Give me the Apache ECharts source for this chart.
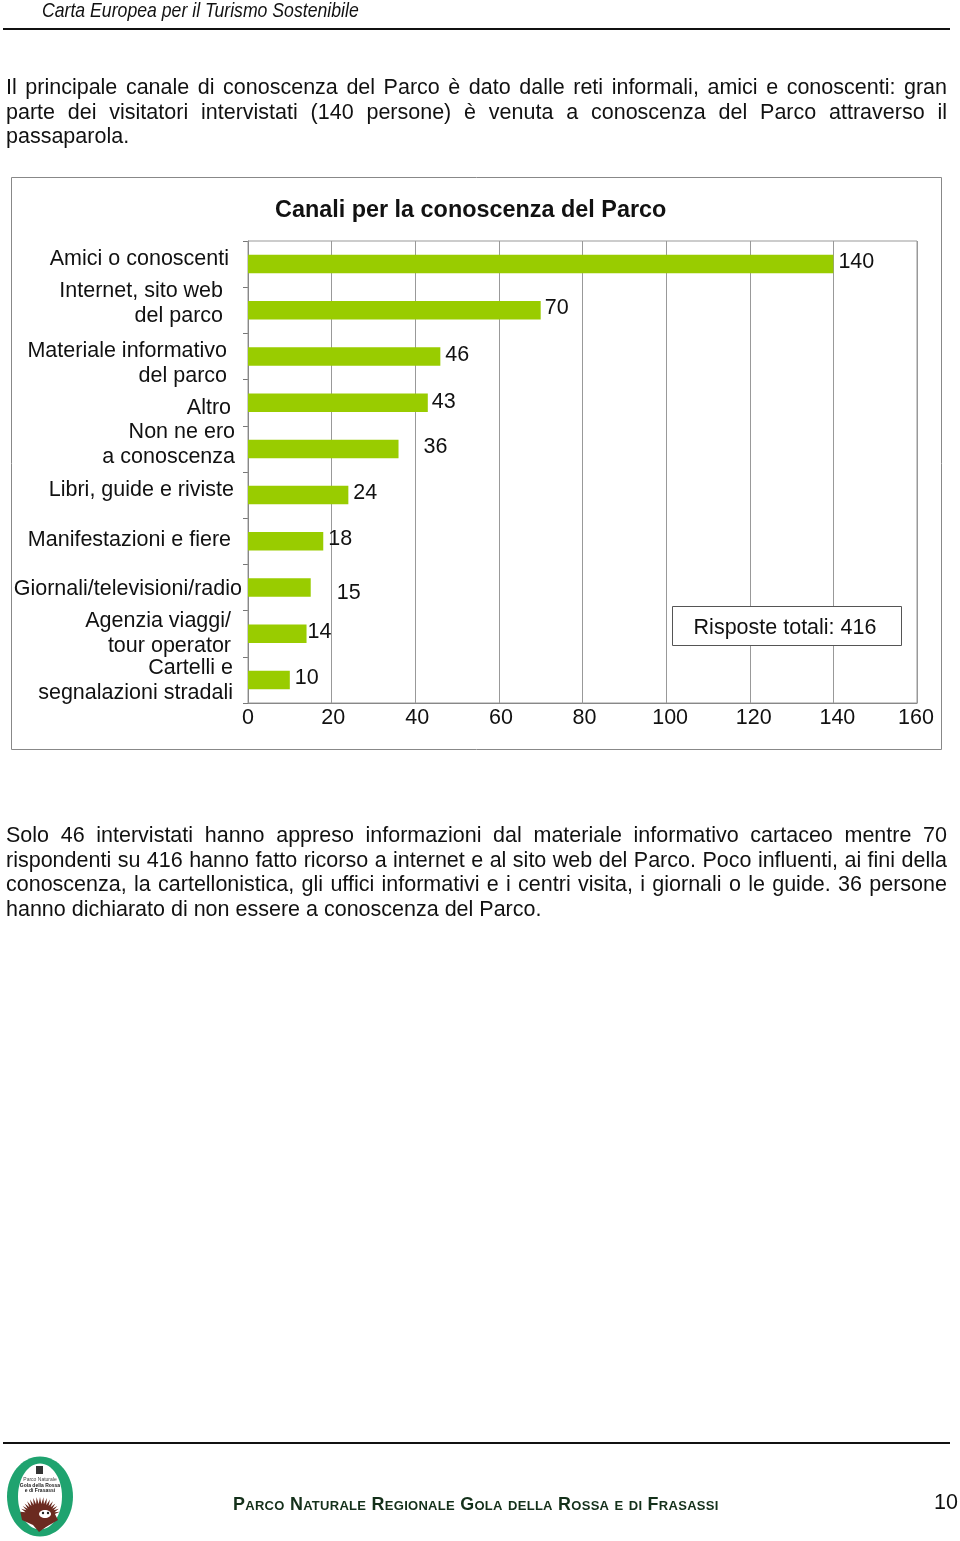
<!DOCTYPE html>
<html>
<head>
<meta charset="utf-8">
<title>Canali per la conoscenza del Parco</title>
<script src="https://cdn.jsdelivr.net/npm/echarts@6/dist/echarts.min.js"></script>
<style>
html, body { margin: 0; padding: 0; background: #fff; }
#page { position: relative; width: 960px; height: 1541px; overflow: hidden; font-family: "Liberation Sans", Arial, sans-serif; color: #111; }
#chartContainer { position: absolute; left: 0; top: 0; width: 960px; height: 1541px; }
.rule { position: absolute; left: 3px; width: 947px; height: 2px; background: #111; }
.line { position: absolute; left: 6px; width: 941px; font-size: 21.5px; line-height: 25px; white-space: nowrap; text-align: justify; text-align-last: justify; }
.line.last { text-align-last: left; }
#header { position: absolute; left: 42px; top: -3px; font: italic 21px/25px "Liberation Sans", sans-serif; white-space: nowrap; transform: scaleX(0.841); transform-origin: left top; }
#footer { position: absolute; left: 233px; top: 1492px; font-size: 17.9px; line-height: 24px; font-weight: bold; font-variant: small-caps; color: #14301a; white-space: nowrap; letter-spacing: 0.29px; }
#pageNum { position: absolute; left: 934px; top: 1490px; font-size: 21.5px; line-height: 25px; }
</style>
</head>
<body>
<div id="page">
    <div id="chartContainer"></div>
    <div id="header">Carta Europea per il Turismo Sostenibile</div>
    <div class="rule" style="top:28px"></div>
    <div id="intro"></div>
    <div id="outro"></div>
    <div class="rule" style="top:1442px"></div>
    <div id="footer">Parco Naturale Regionale Gola della Rossa e di Frasassi</div>
    <div id="pageNum">10</div>
</div>
<script>
const categories = [
    'Amici o conoscenti',
    'Internet, sito web\ndel parco',
    'Materiale informativo\ndel parco',
    'Altro',
    'Non ne ero\na conoscenza',
    'Libri, guide e riviste',
    'Manifestazioni e fiere',
    'Giornali/televisioni/radio',
    'Agenzia viaggi/\ntour operator',
    'Cartelli e\nsegnalazioni stradali'
];
const values = [140, 70, 46, 43, 36, 24, 18, 15, 14, 10];
const chartTitle = 'Canali per la conoscenza del Parco';
const totalNote = 'Risposte totali: 416';

const introLines = [
    'Il principale canale di conoscenza del Parco è dato dalle reti informali, amici e conoscenti: gran',
    'parte dei visitatori intervistati (140 persone) è venuta a conoscenza del Parco attraverso il',
    'passaparola.'
];
const outroLines = [
    'Solo 46 intervistati hanno appreso informazioni dal materiale informativo cartaceo mentre 70',
    'rispondenti su 416 hanno fatto ricorso a internet e al sito web del Parco. Poco influenti, ai fini della',
    'conoscenza, la cartellonistica, gli uffici informativi e i centri visita, i giornali o le guide. 36 persone',
    'hanno dichiarato di non essere a conoscenza del Parco.'
];

// hand placed in the original, so each label gets its own nudge
const labelNudgeRight = [14, 20, 16, 12, 8, 9, 12, 1, 12, 10];
const labelNudgeY = [-5, -7, 7, 5, -4, -5, -1, 2, 0, 1];
const valueNudge = [[0, -2], [-1, -2], [0, -1], [-1, -1], [20, -2], [0, -2], [0, -2], [21, 6], [-4, -2], [0, -2]];
// x axis labels sit a little off their grid lines in the original
const tickNudge = { 0: 0, 20: 1.5, 40: 2, 60: 2, 80: 2, 100: 4, 120: 4, 140: 4, 160: -1 };

function writeLines(id, lines, top) {
    const box = document.getElementById(id);
    lines.forEach((text, i) => {
        const div = document.createElement('div');
        div.className = 'line' + (i === lines.length - 1 ? ' last' : '');
        div.style.top = (top + i * 24.5) + 'px';
        div.textContent = text;
        box.appendChild(div);
    });
}
writeLines('intro', introLines, 75);
writeLines('outro', outroLines, 823);

const font = '"Liberation Sans", Arial, sans-serif';

const rich = {};
categories.forEach((c, i) => {
    const dy = labelNudgeY[i];
    rich['c' + i] = {
        fontSize: 21.5,
        fontFamily: font,
        color: '#111',
        lineHeight: 25,
        align: 'right',
        padding: [dy > 0 ? dy * 2 : 0, labelNudgeRight[i], dy < 0 ? -dy * 2 : 0, 0]
    };
});

const tickRich = {};
Object.keys(tickNudge).forEach(k => {
    const dx = tickNudge[k];
    tickRich['t' + k] = {
        fontSize: 21.5,
        fontFamily: font,
        color: '#111',
        padding: [0, dx < 0 ? -dx * 2 : 0, 0, dx > 0 ? dx * 2 : 0]
    };
});

function logoGraphic() {
    const spikes = [];
    // hedgehog back, a fan of short brown quills
    for (let a = 190; a <= 350; a += 10) {
        const r = a * Math.PI / 180;
        spikes.push([40 + 20 * Math.cos(r), 1515 + 18 * Math.sin(r)]);
        const m = (a + 5) * Math.PI / 180;
        spikes.push([40 + 15 * Math.cos(m), 1515 + 11 * Math.sin(m)]);
    }
    spikes.push([58, 1520], [46, 1527], [39, 1532], [33, 1525], [22, 1520]);
    return [
        { type: 'ellipse', shape: { cx: 40, cy: 1496.5, rx: 33, ry: 40 }, style: { fill: '#1fa36f' } },
        { type: 'ellipse', shape: { cx: 40, cy: 1496.5, rx: 22, ry: 33 }, style: { fill: '#fff' } },
        { type: 'rect', shape: { x: 36, y: 1466, width: 7, height: 8 }, style: { fill: '#333' } },
        { type: 'text', style: { x: 40, y: 1480, text: 'Parco Naturale', font: '5px ' + font, fill: '#444', align: 'center', verticalAlign: 'middle' } },
        { type: 'text', style: { x: 40, y: 1486, text: 'Gola della Rossa', font: 'bold 5px ' + font, fill: '#222', align: 'center', verticalAlign: 'middle' } },
        { type: 'text', style: { x: 40, y: 1491, text: 'e di Frasassi', font: 'bold 5px ' + font, fill: '#222', align: 'center', verticalAlign: 'middle' } },
        { type: 'polygon', shape: { points: spikes }, style: { fill: '#6b2a20' } },
        { type: 'ellipse', shape: { cx: 45, cy: 1514, rx: 6, ry: 4 }, style: { fill: '#fff' } },
        { type: 'circle', shape: { cx: 43, cy: 1513, r: 1.2 }, style: { fill: '#222' } },
        { type: 'circle', shape: { cx: 48, cy: 1513, r: 1.2 }, style: { fill: '#222' } }
    ];
}

const chart = echarts.init(document.getElementById('chartContainer'), null, { renderer: 'canvas' });

chart.setOption({
    animation: false,
    backgroundColor: 'transparent',
    title: {
        text: chartTitle,
        left: 270,
        top: 194,
        textStyle: { fontFamily: font, fontSize: 23.4, fontWeight: 'bold', color: '#111' }
    },
    grid: {
        left: 248, top: 241, width: 669, height: 462,
        show: true, borderColor: '#999', borderWidth: 1, z: 1
    },
    xAxis: {
        type: 'value',
        min: 0,
        max: 160,
        interval: 20,
        axisLine: { show: true, lineStyle: { color: '#777' } },
        axisTick: { show: false },
        splitLine: { show: true, lineStyle: { color: '#999', width: 1 } },
        axisLabel: {
            margin: 4,
            formatter: value => '{t' + value + '|' + value + '}',
            rich: tickRich
        }
    },
    yAxis: {
        type: 'category',
        inverse: true,
        data: categories,
        axisLine: { show: true, lineStyle: { color: '#777' } },
        axisTick: { show: true, length: 5, lineStyle: { color: '#777' } },
        splitLine: { show: false },
        axisLabel: {
            interval: 0,
            margin: 5,
            hideOverlap: false,
            align: 'right',
            formatter: (value, index) => value.split('\n').map(l => '{c' + index + '|' + l + '}').join('\n'),
            rich
        }
    },
    series: [{
        type: 'bar',
        barCategoryGap: '60%',
        itemStyle: { color: '#99cc00' },
        label: {
            show: true,
            position: 'right',
            distance: 5,
            fontFamily: font,
            fontSize: 21.5,
            color: '#111'
        },
        data: values.map((v, i) => ({ value: v, label: { offset: valueNudge[i] } }))
    }],
    graphic: [
        { type: 'rect', z: -1, shape: { x: 11.5, y: 177.5, width: 930, height: 572 }, style: { fill: '#fff', stroke: '#888', lineWidth: 1 } },
        { type: 'rect', z: 10, shape: { x: 672.5, y: 606.5, width: 229, height: 39 }, style: { fill: '#fff', stroke: '#555', lineWidth: 1 } },
        { type: 'text', z: 11, style: { x: 785, y: 628.5, text: totalNote, font: '21.5px ' + font, fill: '#111', align: 'center', verticalAlign: 'middle' } },
        { type: 'group', z: 5, children: logoGraphic() }
    ]
});
</script>
</body>
</html>
